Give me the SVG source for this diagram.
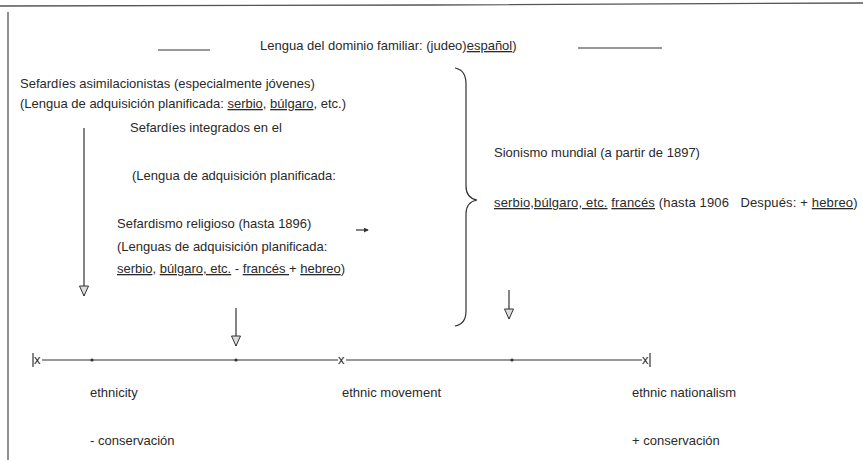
<svg xmlns="http://www.w3.org/2000/svg" width="863" height="460" viewBox="0 0 863 460">
<defs>
<style>
text{font-family:"Liberation Sans",Arial,sans-serif;font-size:13px;fill:#2a2a2a;white-space:pre}
.u{text-decoration:underline}
.ln{stroke:#333;stroke-width:1.2;fill:none}
.fr{stroke:#555;stroke-width:1.3;fill:none}
</style>
<marker id="ah" viewBox="0 0 12 10" refX="11" refY="5" markerWidth="12" markerHeight="10" markerUnits="userSpaceOnUse" orient="auto">
<path d="M1,0.5 L1,9.5 L11,5 Z" fill="#ddd" stroke="#333" stroke-width="1"/>
</marker>
<marker id="sh" viewBox="0 0 6 6" refX="5" refY="3" markerWidth="5" markerHeight="5" markerUnits="userSpaceOnUse" orient="auto">
<path d="M0,0 L6,3 L0,6 Z" fill="#333"/>
</marker>
</defs>
<rect width="863" height="460" fill="#fff"/>
<g id="frame">
<path class="fr" d="M0,6 L430,5 L863,3"/>
<path class="fr" d="M8,12 L8,460"/>
</g>
<g id="title">
<line class="ln" x1="158" y1="50" x2="210" y2="50"/>
<text x="260" y="50">Lengua del dominio familiar: (judeo)<tspan class="u">español</tspan>)</text>
<line class="ln" x1="578" y1="48" x2="662" y2="48"/>
</g>
<g id="asimilacionistas">
<text x="20" y="88">Sefardíes asimilacionistas (especialmente jóvenes)</text>
<text x="20" y="108">(Lengua de adquisición planificada: <tspan class="u">serbio</tspan>, <tspan class="u">búlgaro</tspan>, etc.)</text>
</g>
<g id="integrados">
<text x="130" y="132">Sefardíes integrados en el</text>
<text x="132" y="180">(Lengua de adquisición planificada:</text>
</g>
<g id="religioso">
<text x="117" y="228">Sefardismo religioso (hasta 1896)</text>
<text x="117" y="251">(Lenguas de adquisición planificada:</text>
<text x="117" y="273"><tspan class="u">serbio</tspan>, <tspan class="u">búlgaro, etc.</tspan> - <tspan class="u">francés </tspan>+ <tspan class="u">hebreo</tspan>)</text>
</g>
<g id="brace">
<path class="ln" d="M455,68 Q466,70 466,84 L466,186 Q466,198 477,200 Q466,202 466,214 L466,311 Q466,324 455,326"/>
</g>
<g id="sionismo">
<text x="494" y="157">Sionismo mundial (a partir de 1897)</text>
<text x="494" y="207" letter-spacing="0.15"><tspan class="u">serbio,búlgaro, etc.</tspan> <tspan class="u">francés</tspan> (hasta 1906   Después: + <tspan class="u">hebreo</tspan>)</text>
</g>
<g id="timeline">
<line class="ln" x1="33" y1="353" x2="33" y2="367"/>
<text x="34" y="364">x</text>
<line class="ln" x1="42" y1="360" x2="338" y2="360"/>
<text x="338" y="364">x</text>
<line class="ln" x1="346" y1="360" x2="642" y2="360"/>
<text x="642" y="364">x</text>
<line class="ln" x1="650" y1="353" x2="650" y2="367"/>
<circle cx="92" cy="360" r="1.6" fill="#333"/>
<circle cx="236" cy="360" r="1.6" fill="#333"/>
<circle cx="512" cy="360" r="1.6" fill="#333"/>
</g>
<g id="labels">
<text x="90" y="397">ethnicity</text>
<text x="342" y="397">ethnic movement</text>
<text x="632" y="397">ethnic nationalism</text>
<text x="90" y="445">- conservación</text>
<text x="632" y="445">+ conservación</text>
</g>
<g id="connectors">
<line class="ln" x1="84" y1="128" x2="84" y2="296" marker-end="url(#ah)"/>
<line class="ln" x1="236" y1="308" x2="236" y2="346" marker-end="url(#ah)"/>
<line class="ln" x1="509" y1="290" x2="509" y2="319" marker-end="url(#ah)"/>
<line class="ln" x1="356" y1="230" x2="368" y2="230" stroke-width="1" marker-end="url(#sh)"/>
</g>
</svg>
